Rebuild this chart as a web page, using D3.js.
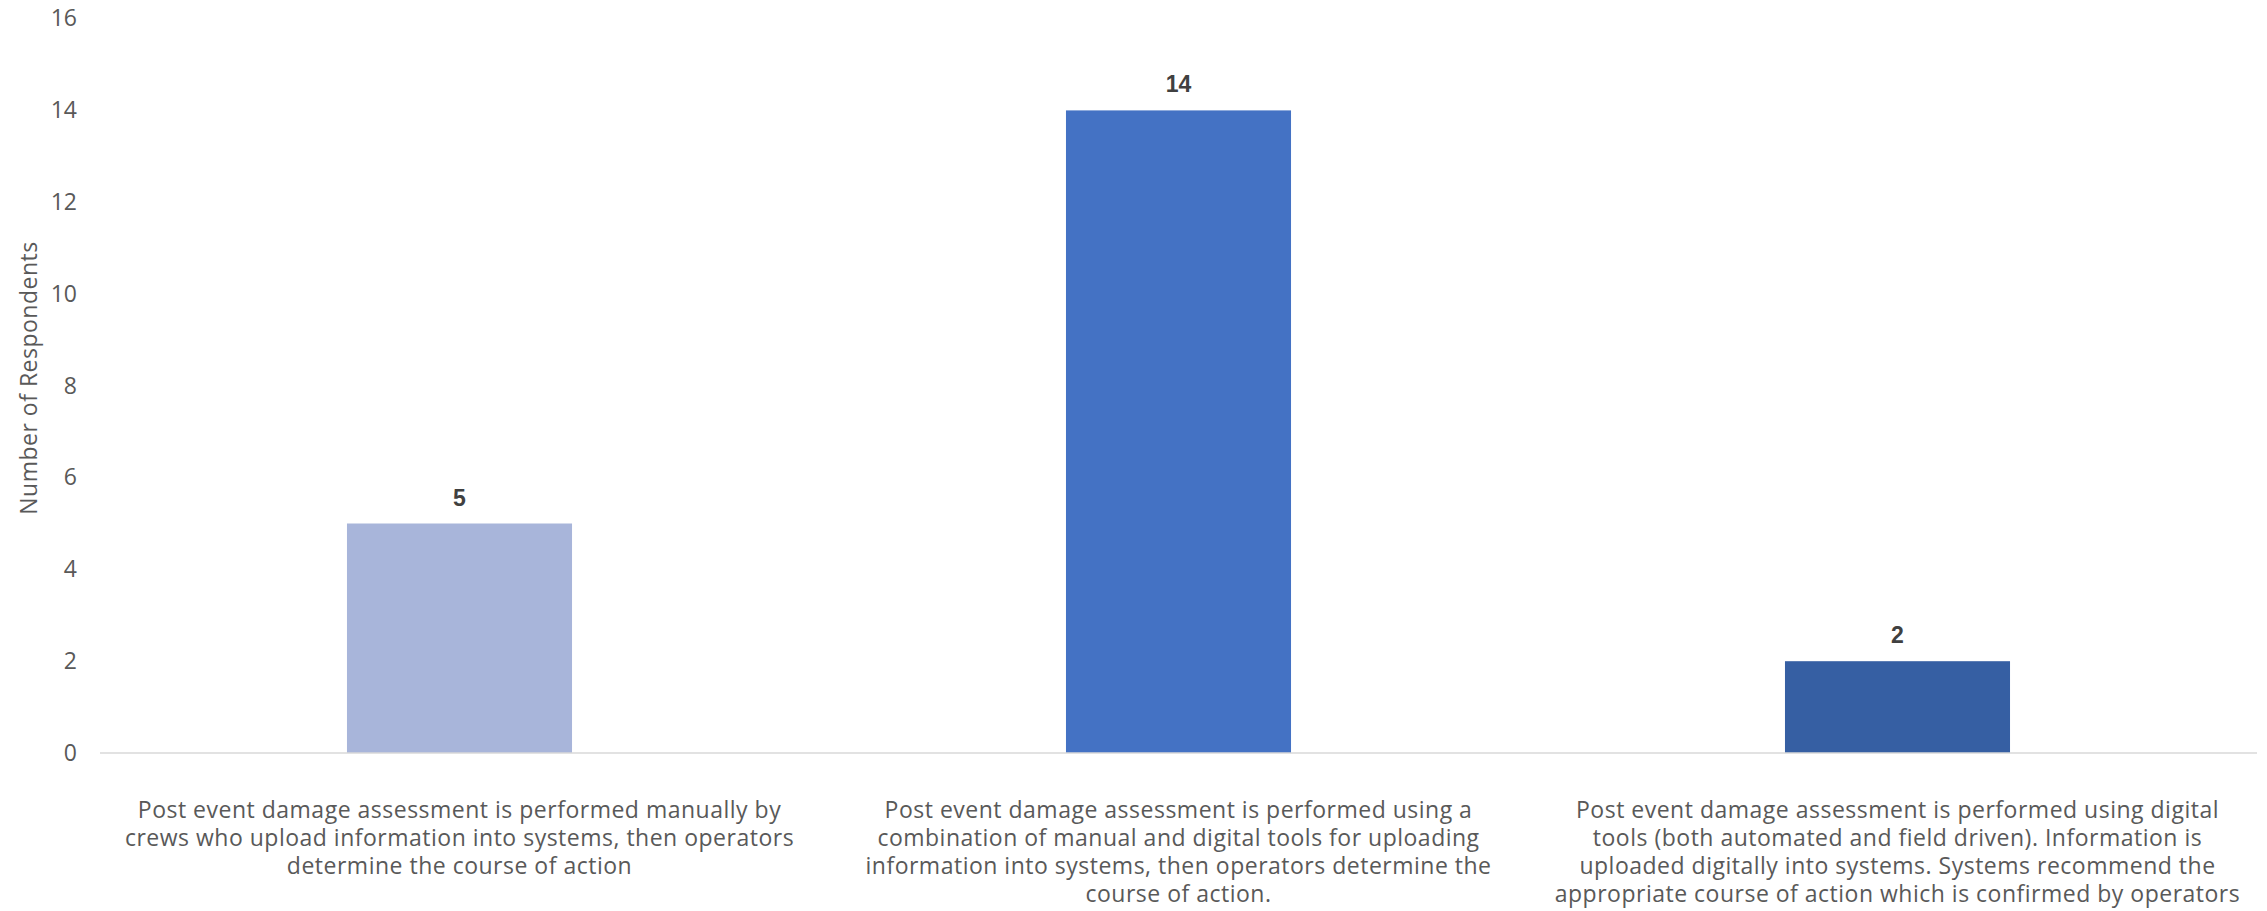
<!DOCTYPE html>
<html>
<head>
<meta charset="utf-8">
<script src="https://cdn.jsdelivr.net/npm/d3@7"></script>
<style>
  html, body { margin: 0; padding: 0; background: #ffffff; }
  svg { display: block; }
</style>
</head>
<body>
<div id="chart"></div>
<script>
// Survey responses: how post-event damage assessment is carried out
const categories = [
  "Post event damage assessment is performed manually by\ncrews who upload information into systems, then operators\ndetermine the course of action",
  "Post event damage assessment is performed using a\ncombination of manual and digital tools for uploading\ninformation into systems, then operators determine the\ncourse of action.",
  "Post event damage assessment is performed using digital\ntools (both automated and field driven). Information is\nuploaded digitally into systems. Systems recommend the\nappropriate course of action which is confirmed by operators"
];
const respondents = [5, 14, 2];
const barColors = ["#a8b5da", "#4472c4", "#365fa3"];
const yTicks = [0, 2, 4, 6, 8, 10, 12, 14, 16];
const yTitle = "Number of Respondents";

const width = 2267, height = 911;
const margin = { top: 18.6, right: 10, bottom: 158, left: 100 };
const plotRight = 2257;
const baseY = height - margin.bottom;

const svg = d3.select("#chart").append("svg")
  .attr("width", width)
  .attr("height", height);

const x = d3.scaleBand()
  .domain(d3.range(categories.length))
  .range([margin.left, plotRight])
  .paddingInner(0.687)
  .paddingOuter(0.3435);

const y = d3.scaleLinear()
  .domain([0, 16])
  .range([baseY, margin.top]);

const font = "'Open Sans', 'Noto Sans', sans-serif";

// y axis tick labels (no axis line, no tick marks)
const yAxis = svg.append("g")
  .attr("transform", `translate(${margin.left - 23},0)`)
  .call(d3.axisLeft(y).tickValues(yTicks).tickSize(0).tickPadding(0));
yAxis.select(".domain").remove();
yAxis.selectAll("text")
  .attr("fill", "#595959")
  .style("font-family", font)
  .style("font-size", "23px");

// y axis title
svg.append("text")
  .attr("transform", `translate(28,378) rotate(-90)`)
  .attr("text-anchor", "middle")
  .attr("dominant-baseline", "central")
  .attr("fill", "#595959")
  .style("font-family", font)
  .style("font-size", "23px")
  .style("letter-spacing", "0.5px")
  .text(yTitle);

// bars
svg.append("g").selectAll("rect")
  .data(respondents)
  .join("rect")
  .attr("x", (d, i) => x(i))
  .attr("y", d => y(d))
  .attr("width", x.bandwidth())
  .attr("height", d => y(0) - y(d))
  .attr("fill", (d, i) => barColors[i]);

// baseline
svg.append("line")
  .attr("x1", margin.left).attr("x2", plotRight)
  .attr("y1", y(0)).attr("y2", y(0))
  .attr("stroke", "#d9d9d9")
  .attr("stroke-width", 1.5);

// value labels
svg.append("g").selectAll("text")
  .data(respondents)
  .join("text")
  .attr("x", (d, i) => x(i) + x.bandwidth() / 2)
  .attr("y", d => y(d) - 18)
  .attr("text-anchor", "middle")
  .attr("fill", "#404040")
  .style("font-family", "'Liberation Sans', Arial, sans-serif")
  .style("font-weight", "bold")
  .style("font-size", "23px")
  .text(d => d);

// category labels, one tspan per line
const catLabels = svg.append("g").selectAll("text")
  .data(categories)
  .join("text")
  .attr("text-anchor", "middle")
  .attr("fill", "#595959")
  .style("font-family", font)
  .style("font-size", "23px")
  .style("letter-spacing", "0.5px");

catLabels.each(function(d, i) {
  const cx = x(i) + x.bandwidth() / 2;
  d3.select(this).selectAll("tspan")
    .data(d.split("\n"))
    .join("tspan")
    .attr("x", cx)
    .attr("y", (t, j) => 818 + j * 28)
    .text(t => t);
});
</script>
</body>
</html>
